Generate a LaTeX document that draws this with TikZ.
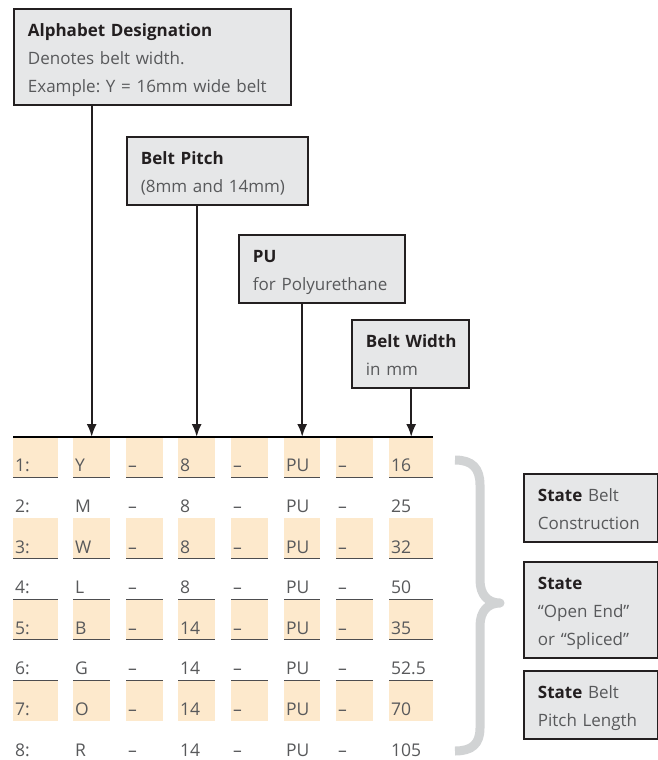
\documentclass[tikz,border=0pt]{standalone}
\usepackage{fontspec}
\setmainfont{Open Sans}
\usetikzlibrary{arrows.meta}
\frenchspacing

\definecolor{boxgray}{HTML}{E6E7E8}
\definecolor{cellfill}{HTML}{FDE9CC}
\definecolor{txtgray}{HTML}{58595B}
\definecolor{headdark}{HTML}{231F20}
\definecolor{bracegray}{HTML}{D1D3D4}
\definecolor{linegray}{HTML}{4D4D4F}

\newcommand\boxhead[1]{{\color{headdark}\bfseries #1}}
\newcommand\firstline{\rule{0pt}{22pt}}
\newcommand\lastline{\rule[-6pt]{0pt}{6pt}}

\begin{document}
\begin{tikzpicture}[x=1pt, y=-1pt,
  infobox/.style={draw=headdark, line width=1.8pt, fill=boxgray, anchor=north west,
    align=left, inner xsep=14pt, inner ysep=6pt, text=txtgray,
    font=\fontsize{17}{28}\selectfont},
  cell/.style={anchor=south west, inner xsep=2pt, inner ysep=0pt, text height=34.6pt,
    text depth=6pt, align=left, text=txtgray, font=\fontsize{17.5}{20}\selectfont},
  rowline/.style={draw=linegray, line width=2.2pt},
  topline/.style={draw=black, line width=2.2pt},
  pointer/.style={draw=headdark, line width=2pt, -{Latex[length=13pt,width=10pt]}},
  brace/.style={draw=bracegray, line width=9pt, line join=round}]
\useasboundingbox (0,0) rectangle (658,760);

% Callout boxes above the code
\node[infobox, text width=249pt] (alpha) at (13,8)
  {\firstline\boxhead{Alphabet Designation}\\Denotes belt width.\\\mbox{Example: Y = 16mm wide belt}\lastline};
\node[infobox, text width=153pt] (pitch) at (126,136)
  {\firstline\boxhead{Belt Pitch}\\\mbox{(8mm and 14mm)}\lastline};
\node[infobox, text width=138pt] (pu) at (238,234)
  {\firstline\boxhead{PU}\\\mbox{for Polyurethane}\lastline};
\node[infobox, text width=89pt] (width) at (351,319)
  {\firstline\boxhead{\mbox{Belt Width}}\\in mm\lastline};

% Code table
\foreach \r/\a/\p/\b/\f in {1/Y/8/16/cellfill, 2/M/8/25/white, 3/W/8/32/cellfill,
    4/L/8/50/white, 5/B/14/35/cellfill, 6/G/14/52.5/white, 7/O/14/70/cellfill,
    8/R/14/105/white} {
  \pgfmathsetmacro\bot{478+(\r-1)*40.6}
  \foreach \c/\x/\w/\t in {1/13/45/{\r:}, 2/73/37/\a, 3/126/37/--, 4/178/37/\p,
      5/231/37/--, 6/284/36/PU, 7/336/37/--, 8/389/44/\b} {
    \pgfmathsetmacro\tw{\w-4}
    \node[cell, fill=\f, text width=\tw pt] (r\r c\c) at (\x,\bot) {\t};
    \ifnum\r<8
      \draw[rowline] (r\r c\c.south west) -- (r\r c\c.south east);
    \fi
  }
}
\draw[topline] (r1c1.north west) -- (r1c8.north east);

% Pointers
\draw[pointer] (alpha.south -| r1c2) -- (r1c2.north);
\draw[pointer] (pitch.south -| r1c4) -- (r1c4.north);
\draw[pointer] (pu.south -| r1c6) -- (r1c6.north);
\draw[pointer] (width.south -| r1c8) -- (r1c8.north);

% Brace and notes
\draw[brace] (455,460) .. controls (472,460) and (480,468) .. (480,485) -- (480,580)
  .. controls (480,595) and (488,603) .. (500,603)
  .. controls (488,603) and (480,611) .. (480,626) -- (480,728)
  .. controls (480,744) and (472,751) .. (455,751);

\node[infobox, text width=106pt] (constr) at (523,473)
  {\firstline\boxhead{State} Belt\\\mbox{Construction}\lastline};
\node[infobox, text width=106pt] (ends) at (523,561)
  {\firstline\boxhead{State}\\“Open End”\\\mbox{or “Spliced”}\lastline};
\node[infobox, text width=106pt] (length) at (523,670)
  {\firstline\boxhead{State} Belt\\\mbox{Pitch Length}\lastline};
\end{tikzpicture}
\end{document}
